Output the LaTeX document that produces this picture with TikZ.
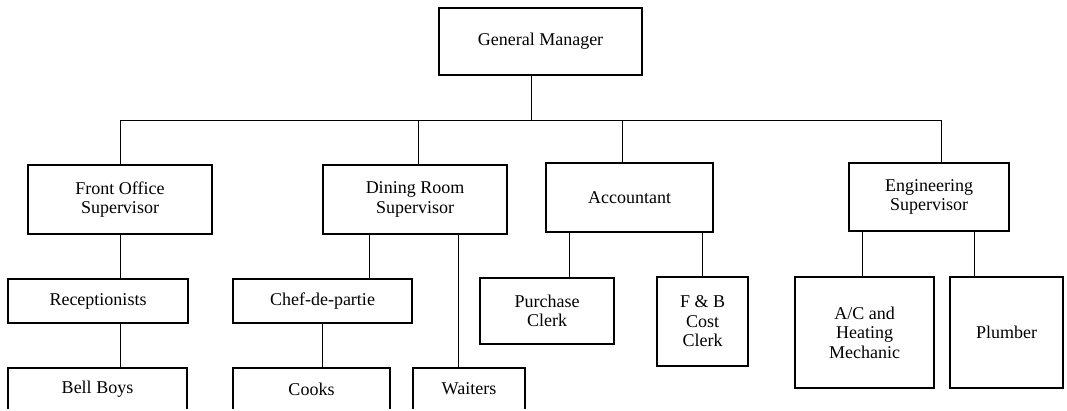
\documentclass[tikz,border=0pt]{standalone}
\usepackage{fontspec}
\setmainfont{Liberation Serif}
\begin{document}
\begin{tikzpicture}[x=1pt,y=-1pt,
  box/.style={draw, line width=1.1pt, inner sep=0pt, align=center,
    font=\fontsize{18}{19.5}\selectfont},
  link/.style={line width=1pt}]
\useasboundingbox (0,0) rectangle (1067,410);
\clip (0,0) rectangle (1067,408.9);

% top
\node[box, minimum width=203, minimum height=67] (gm) at (540.5,41.5) {General Manager};

% supervisors
\node[box, minimum width=184, minimum height=69] (fo)  at (120,199.5)   {Front Office\\Supervisor};
\node[box, minimum width=184, minimum height=69] (dr)  at (415,199.5)   {Dining Room\\Supervisor};
\node[box, minimum width=167, minimum height=69] (acc) at (629.5,197.5) {Accountant};
\node[box, minimum width=160, minimum height=68] (eng) at (929,197)     {Engineering\\Supervisor};

% staff
\node[box, minimum width=180, minimum height=44]  (rec)     at (98,301)     {Receptionists};
\node[box, minimum width=179, minimum height=42]  (bell)    at (97.5,389)   {Bell Boys};
\node[box, minimum width=179, minimum height=44]  (chef)    at (322.5,301)  {Chef-de-partie};
\node[box, minimum width=157, minimum height=42]  (cooks)   at (311.5,389)  {Cooks};
\node[box, minimum width=112, minimum height=42]  (waiters) at (469,389)    {Waiters};
\node[box, minimum width=134, minimum height=66]  (pur)     at (547,311)    {Purchase\\Clerk};
\node[box, minimum width=91,  minimum height=89]  (fb)      at (702.5,321.5){F \& B\\Cost\\Clerk};
\node[box, minimum width=139, minimum height=111] (ac)      at (864.5,332.5){A/C and\\Heating\\Mechanic};
\node[box, minimum width=113, minimum height=111] (pl)      at (1006.5,332.5){Plumber};

% connectors
\coordinate (bus) at (0,120);
\draw[link] ([xshift=-9.5]gm.south) -- ([xshift=-9.5]gm.south |- bus);
\draw[link] (fo.north) -- (fo.north |- bus) -- ([xshift=12]eng.north |- bus) -- ([xshift=12]eng.north);
\draw[link] ([xshift=3]dr.north) -- ([xshift=3]dr.north |- bus);
\draw[link] ([xshift=-7.5]acc.north) -- ([xshift=-7.5]acc.north |- bus);

\draw[link] (fo.south) -- (fo.south |- rec.north);
\draw[link] (fo.south |- rec.south) -- (fo.south |- bell.north);
\draw[link] ([xshift=-46]dr.south) -- ([xshift=-46]dr.south |- chef.north);
\draw[link] (chef.south) -- (chef.south |- cooks.north);
\draw[link] ([xshift=43]dr.south) -- ([xshift=43]dr.south |- waiters.north);
\draw[link] ([xshift=22]pur.north) -- ([xshift=22]pur.north |- acc.south);
\draw[link] (fb.north) -- (fb.north |- acc.south);
\draw[link] ([xshift=-2.5]ac.north) -- ([xshift=-2.5]ac.north |- eng.south);
\draw[link] ([xshift=-32.5]pl.north) -- ([xshift=-32.5]pl.north |- eng.south);
\end{tikzpicture}
\end{document}
